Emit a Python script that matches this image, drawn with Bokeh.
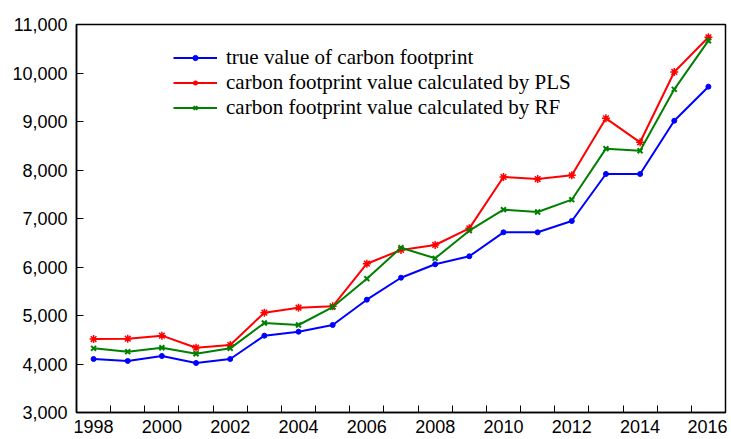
from bokeh.plotting import figure
from bokeh.models import FixedTicker, NumeralTickFormatter, Legend, LegendItem, Range1d
from bokeh.embed import file_html
from bokeh.resources import INLINE

years = list(range(1998, 2017))
true_vals = [4103, 4062, 4165, 4021, 4103, 4584, 4666, 4804, 5326, 5779,
             6056, 6221, 6715, 6715, 6948, 7918, 7918, 9016, 9718]
pls_vals = [4515, 4522, 4584, 4336, 4392, 5058, 5161, 5189, 6068, 6351,
            6454, 6797, 7856, 7814, 7890, 9065, 8571, 10021, 10736]
rf_vals = [4323, 4254, 4336, 4212, 4323, 4845, 4804, 5175, 5759, 6398,
           6179, 6749, 7182, 7134, 7388, 8440, 8398, 9663, 10666]
x_labels = [1998, 2000, 2002, 2004, 2006, 2008, 2010, 2012, 2014, 2016]
y_ticks = [3000, 4000, 5000, 6000, 7000, 8000, 9000, 10000, 11000]
names = ["true value of carbon footprint",
         "carbon footprint value calculated by PLS",
         "carbon footprint value calculated by RF"]

p = figure(width=727, height=439, output_backend="svg", toolbar_location=None,
           x_range=Range1d(1997.5, 2016.5), y_range=Range1d(3000, 11000),
           min_border_left=76, min_border_right=2, min_border_top=24, min_border_bottom=27)
p.background_fill_color = "white"
p.border_fill_color = "white"
p.outline_line_color = "black"
p.outline_line_width = 1.5
p.grid.visible = False

xa = p.xaxis[0]
xa.ticker = FixedTicker(ticks=x_labels, minor_ticks=[y + 0.5 for y in range(1998, 2016)])
xa.major_tick_in = 0
xa.major_tick_out = 0
xa.minor_tick_in = 7
xa.minor_tick_out = 0
xa.minor_tick_line_color = "black"
xa.axis_line_color = "black"
xa.axis_line_width = 1.5
xa.major_label_text_font = "Liberation Sans"
xa.major_label_text_font_size = "18px"
xa.major_label_text_color = "black"
xa.major_label_standoff = 7

ya = p.yaxis[0]
ya.ticker = FixedTicker(ticks=y_ticks, minor_ticks=[])
ya.formatter = NumeralTickFormatter(format="0,0")
ya.major_tick_in = 7
ya.major_tick_out = 0
ya.minor_tick_in = 0
ya.minor_tick_out = 0
ya.axis_line_color = "black"
ya.axis_line_width = 1.5
ya.major_label_text_font = "Liberation Sans"
ya.major_label_text_font_size = "18px"
ya.major_label_text_color = "black"
ya.major_label_standoff = 9

items = []
specs = [(true_vals, "#0000FF", "circle", 5, 1), (pls_vals, "#FF0000", "asterisk", 8, 1.5),
         (rf_vals, "#008000", "x", 7, 2)]
for vals, col, mk, sz, mlw, in specs:
    l = p.line(years, vals, line_color=col, line_width=2)
    s = p.scatter(years, vals, marker=mk, size=sz, line_color=col, fill_color=col, line_width=mlw)
    items.append((l, s))

legend = Legend(items=[LegendItem(label=n, renderers=[l, s]) for n, (l, s) in zip(names, items)],
                location=(97, 292), orientation="vertical")
legend.border_line_color = None
legend.background_fill_alpha = 0
legend.padding = 0
legend.spacing = 0
legend.margin = 0
legend.glyph_width = 44
legend.glyph_height = 13
legend.label_height = 24
legend.label_standoff = 9
legend.label_text_font = "Liberation Serif"
legend.label_text_font_size = "21px"
legend.label_text_color = "black"
p.add_layout(legend, "center")

open("out.html", "w").write(file_html(p, INLINE))
